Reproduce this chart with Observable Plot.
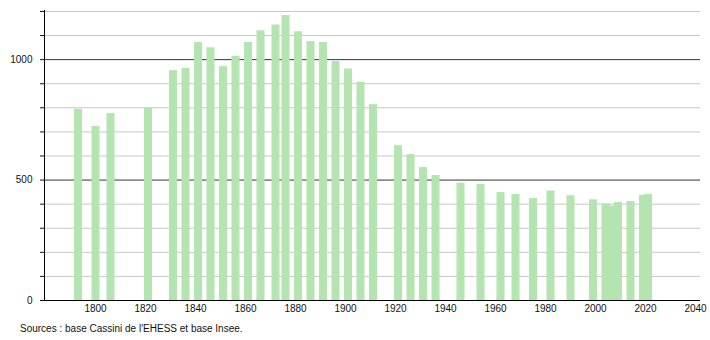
<!DOCTYPE html>
<html><head><meta charset="utf-8">
<script src="https://cdn.jsdelivr.net/npm/d3@7"></script>
<script src="https://cdn.jsdelivr.net/npm/@observablehq/plot@0.6"></script>
<style>
body{margin:0;background:#fff;font-family:"Liberation Sans",Arial,sans-serif;}
#cap{font-size:10px;line-height:12px;color:#111;padding-left:20px;margin-top:5px;}
</style></head><body><div id="chart"></div><div id="cap">Sources : base Cassini de l'EHESS et base Insee.</div>
<script>
const years = [1793,1800,1806,1821,1831,1836,1841,1846,1851,1856,1861,1866,1872,1876,1881,1886,1891,1896,1901,1906,1911,1921,1926,1931,1936,1946,1954,1962,1968,1975,1982,1990,1999,2004,2006,2009,2014,2019,2021];
const population = [794,722,776,800,954,964,1071,1049,971,1014,1071,1120,1144,1183,1116,1075,1071,992,961,906,813,643,606,552,519,487,482,448,440,423,455,435,418,401,392,407,411,436,440];
const xTicks = [1800,1820,1840,1860,1880,1900,1920,1940,1960,1980,2000,2020,2040];
const yTicks = [0,100,200,300,400,500,600,700,800,900,1000,1100,1200];
const yLabels = [0,500,1000];
const majorLines = [500,1000];
const minorLines = yTicks.filter(v => v > 0 && !majorLines.includes(v));

const data = years.map((year, i) => ({year, pop: population[i]}));
const xDomain = [1779.6, 2042];
const chart = Plot.plot({
  width: 710, height: 318,
  marginLeft: 44, marginRight: 10, marginTop: 10, marginBottom: 18,
  style: {fontFamily: '"Liberation Sans", Arial, sans-serif', fontSize: "10px", color: "#111"},
  x: {domain: xDomain},
  y: {domain: [0, 1204]},
  marks: [
    Plot.ruleY(minorLines, {stroke: "#c8c8c8", strokeWidth: 1}),
    Plot.ruleY(majorLines, {stroke: "#333", strokeWidth: 1}),
    Plot.rectY(data, {x1: d => d.year - 1.4, x2: d => d.year + 1.8, y: "pop", fill: "#b4e4b0"}),
    Plot.ruleY([0], {stroke: "#000", strokeWidth: 1}),
    Plot.ruleX([xDomain[0]], {stroke: "#000", strokeWidth: 1}),
    Plot.axisY({ticks: yTicks, tickSize: 4, tickPadding: 8, tickFormat: v => yLabels.includes(v) ? String(v) : "", label: null}),
    Plot.axisX({ticks: xTicks, tickSize: 0, tickPadding: 4, tickFormat: d => String(d), label: null})
  ]
});
document.getElementById("chart").appendChild(chart);
</script></body></html>
